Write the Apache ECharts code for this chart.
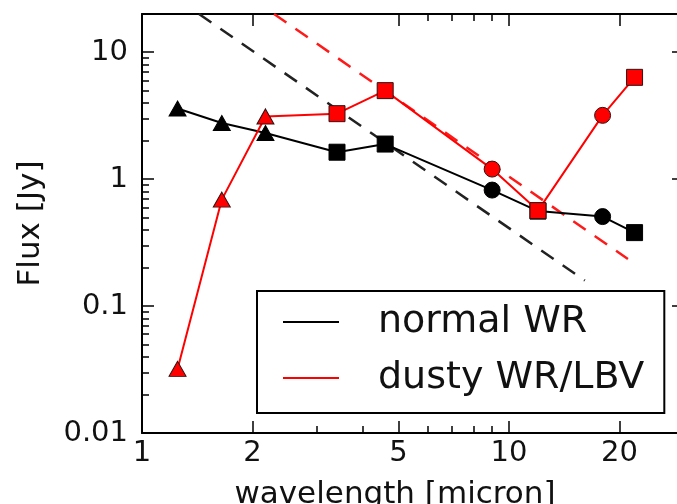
<!DOCTYPE html>
<html>
<head>
<meta charset="utf-8">
<script src="https://cdn.jsdelivr.net/npm/echarts@6/dist/echarts.min.js"></script>
<style>
html,body{margin:0;padding:0;background:#fff;}
#chart{width:677px;height:504px;}
</style>
</head>
<body>
<div id="chart"></div>
<script>
// ---- data ----
var wavelengths = [1.25, 1.65, 2.17, 3.4, 4.6, 9, 12, 18, 22];
var pointSymbols = ['triangle','triangle','triangle','rect','rect','circle','rect','circle','rect'];
var normalWR = [3.6, 2.77, 2.31, 1.63, 1.89, 0.82, 0.56, 0.507, 0.379];
var dustyWR = [0.032, 0.69, 3.12, 3.28, 4.98, 1.2, 0.565, 3.18, 6.34];
var normalDashX = [1.43, 16.1];
var normalDashY = [20, 0.159];
var dustyDashX = [2.29, 21.1];
var dustyDashY = [20, 0.235];
var seriesNames = ['normal WR', 'dusty WR/LBV'];
var xMajorTicks = [1, 2, 5, 10, 20];
var xMinorTicks = [3, 4, 6, 7, 8, 9, 30];
var xTopMajorTicks = [2, 5, 10, 20];
var xTopMinorTicks = [6, 7, 8, 9];
var yMajorTicks = [0.01, 0.1, 1, 10];
var yMinorTicks = [0.02,0.03,0.04,0.05,0.06,0.07,0.08,0.09,0.2,0.3,0.4,0.5,0.6,0.7,0.8,0.9,2,3,4,5,6,7,8,9];
var xLabels = ['1', '2', '5', '10', '20'];
var yLabels = ['0.01', '0.1', '1', '10'];

// ---- chart ----
var FONT = 'DejaVu Sans';
var chart = echarts.init(document.getElementById('chart'), null, {renderer: 'canvas'});

function pts(xs, ys, withSymbols) {
  return xs.map(function (x, i) {
    var d = {value: [x, ys[i]]};
    if (withSymbols) {
      d.symbol = pointSymbols[i];
      d.symbolSize = pointSymbols[i] === 'triangle' ? [17, 15] : 16;
    }
    return d;
  });
}
function labelFor(ticks, labels) {
  return function (v) {
    for (var i = 0; i < ticks.length; i++) {
      if (Math.abs(Math.log10(v) - Math.log10(ticks[i])) < 1e-6) return labels[i];
    }
    return '';
  };
}

var xBase = {type: 'log', logBase: 10, min: 1, max: 30, gridIndex: 0, splitLine: {show: false}, minorTick: {show: false}, minorSplitLine: {show: false}};
var yBase = {type: 'log', logBase: 10, min: 0.01, max: 20, gridIndex: 0, splitLine: {show: false}, minorTick: {show: false}, minorSplitLine: {show: false}};

function ax(base, extra) { return Object.assign({}, base, extra); }

var lineAx = {show: true, onZero: false, lineStyle: {color: '#000', width: 2}};
var noLine = {show: false, onZero: false};

var option = {
  animation: false,
  backgroundColor: '#fff',
  grid: {left: 142, top: 14, width: 542, height: 419, containLabel: false, outerBoundsMode: 'none'},
  xAxis: [
    ax(xBase, {position: 'bottom', axisLine: lineAx,
      axisTick: {show: true, inside: true, length: 12, customValues: xMajorTicks, lineStyle: {color: '#000', width: 1.5}},
      axisLabel: {show: true, customValues: xMajorTicks, formatter: labelFor(xMajorTicks, xLabels), margin: 6,
        fontFamily: FONT, fontSize: 29, color: '#111', showMinLabel: true, showMaxLabel: true, hideOverlap: false},
      name: 'wavelength [micron]', nameLocation: 'middle', nameGap: 46,
      nameTextStyle: {fontFamily: FONT, fontSize: 31, color: '#111', padding: [0, 36, 0, 0]}}),
    ax(xBase, {position: 'bottom', axisLine: noLine,
      axisTick: {show: true, inside: true, length: 7, customValues: xMinorTicks, lineStyle: {color: '#000', width: 1.5}},
      axisLabel: {show: false}}),
    ax(xBase, {position: 'top', axisLine: lineAx,
      axisTick: {show: true, inside: true, length: 12, customValues: xTopMajorTicks, lineStyle: {color: '#000', width: 1.5}},
      axisLabel: {show: false}}),
    ax(xBase, {position: 'top', axisLine: noLine,
      axisTick: {show: true, inside: true, length: 7, customValues: xTopMinorTicks, lineStyle: {color: '#000', width: 1.5}},
      axisLabel: {show: false}})
  ],
  yAxis: [
    ax(yBase, {position: 'left', axisLine: lineAx,
      axisTick: {show: true, inside: true, length: 12, customValues: yMajorTicks, lineStyle: {color: '#000', width: 1.5}},
      axisLabel: {show: true, customValues: yMajorTicks, formatter: labelFor(yMajorTicks, yLabels), margin: 14,
        fontFamily: FONT, fontSize: 29, color: '#111', showMinLabel: true, showMaxLabel: true, hideOverlap: false},
      name: 'Flux [Jy]', nameLocation: 'middle', nameGap: 96,
      nameTextStyle: {fontFamily: FONT, fontSize: 31, color: '#111'}}),
    ax(yBase, {position: 'left', axisLine: noLine,
      axisTick: {show: true, inside: true, length: 7, customValues: yMinorTicks, lineStyle: {color: '#000', width: 1.5}},
      axisLabel: {show: false}}),
    ax(yBase, {position: 'right', axisLine: lineAx,
      axisTick: {show: true, inside: true, length: 12, customValues: yMajorTicks, lineStyle: {color: '#000', width: 1.5}},
      axisLabel: {show: false}}),
    ax(yBase, {position: 'right', axisLine: noLine,
      axisTick: {show: true, inside: true, length: 7, customValues: yMinorTicks, lineStyle: {color: '#000', width: 1.5}},
      axisLabel: {show: false}})
  ],
  legend: {
    show: true,
    orient: 'vertical',
    left: 257, top: 291,
    data: [
      {name: seriesNames[0], icon: 'rect', itemStyle: {color: '#000', borderWidth: 0}},
      {name: seriesNames[1], icon: 'rect', itemStyle: {color: '#ff0000', borderWidth: 0}}
    ],
    itemWidth: 56, itemHeight: 2,
    itemGap: 14,
    padding: [10, 20, 14, 26],
    borderColor: '#000', borderWidth: 2, borderRadius: 0,
    backgroundColor: '#fff',
    selectedMode: false,
    textStyle: {fontFamily: FONT, fontSize: 38, color: '#111', lineHeight: 42, padding: [0, 0, 0, 34]}
  },
  series: [
    {type: 'line', name: 'normalDash', data: pts(normalDashX, normalDashY, false), symbol: 'none', clip: true,
     lineStyle: {color: '#222', width: 2.5, type: [15, 11]}, z: 2, silent: true},
    {type: 'line', name: 'dustyDash', data: pts(dustyDashX, dustyDashY, false), symbol: 'none', clip: true,
     lineStyle: {color: '#ff1a1a', width: 2.5, type: [15, 11]}, z: 2, silent: true},
    {type: 'line', name: seriesNames[0], data: pts(wavelengths, normalWR, true), clip: true,
     color: '#000', lineStyle: {color: '#000', width: 2},
     itemStyle: {color: '#000', borderColor: '#000', borderWidth: 1}, z: 3},
    {type: 'line', name: seriesNames[1], data: pts(wavelengths, dustyWR, true), clip: true,
     color: '#ff0000', lineStyle: {color: '#ff0000', width: 2},
     itemStyle: {color: '#ff0000', borderColor: '#331111', borderWidth: 1}, z: 4}
  ]
};
chart.setOption(option);
</script>
</body>
</html>
